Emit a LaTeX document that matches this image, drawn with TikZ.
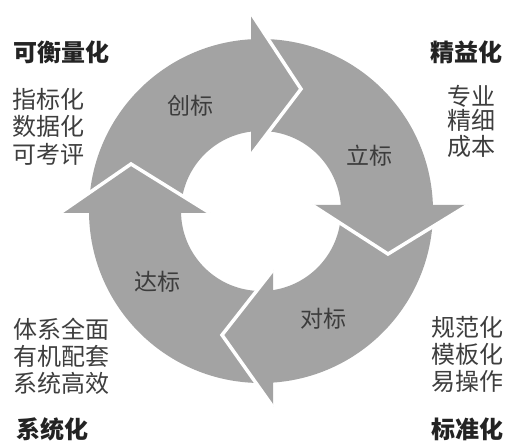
\documentclass[tikz,border=0pt]{standalone}
\usepackage{fontspec}
\newfontfamily\cjk{Noto Sans CJK SC}
\usetikzlibrary{calc}
\definecolor{ringgray}{RGB}{163,163,163}
\definecolor{txtgray}{RGB}{62,62,62}
\definecolor{ttlgray}{RGB}{35,35,35}
\definecolor{ingray}{RGB}{60,60,60}
\begin{document}
\begin{tikzpicture}[x=1pt,y=1pt,
  lbl/.style={font=\cjk\fontsize{24}{24}\selectfont, text=txtgray, inner sep=0pt},
  ttl/.style={font=\cjk\bfseries\fontsize{24}{24}\selectfont, text=ttlgray, inner sep=0pt},
  inlbl/.style={font=\cjk\fontsize{23}{23}\selectfont, text=ingray, inner sep=0pt},
  headfill/.style={fill=ringgray},
  gapline/.style={draw=white, line width=3.5pt, line join=miter}]
\useasboundingbox (0,0) rectangle (508,441);
\fill[white] (0,0) rectangle (508,441);
\coordinate (C) at (261,230);
% ring
\fill[ringgray, even odd rule] (C) circle[radius=172] (C) circle[radius=80];
% head of 创标 (top, pointing right)
\coordinate (a1) at (251,428); \coordinate (a2) at (251,286); \coordinate (at) at (301,352);
\fill[headfill] (a1) -- (at) -- (a2) -- cycle;
\draw[gapline] (a1) -- (at) -- (a2);
% head of 立标 (right, pointing down)
\coordinate (b1) at (468,236); \coordinate (b2) at (312,236); \coordinate (bt) at (388,187);
\fill[headfill] (b1) -- (bt) -- (b2) -- cycle;
\draw[gapline] (b1) -- (bt) -- (b2);
% head of 对标 (bottom, pointing left)
\coordinate (c1) at (273,34); \coordinate (c2) at (273,171); \coordinate (ct) at (222,106);
\fill[headfill] (c1) -- (ct) -- (c2) -- cycle;
\draw[gapline] (c1) -- (ct) -- (c2);
% head of 达标 (left, pointing up)
\coordinate (d1) at (60,228); \coordinate (d2) at (210,228); \coordinate (dt) at (131,277);
\fill[headfill] (d1) -- (dt) -- (d2) -- cycle;
\draw[gapline] (d1) -- (dt) -- (d2);
% labels on the ring
\node[inlbl] (chuang) at (190,335) {创标};
\node[inlbl] (li) at (369,285) {立标};
\node[inlbl] (dui) at (323.5,122) {对标};
\node[inlbl] (da) at (157.5,159) {达标};
% top left
\node[ttl] (tl0) at (61.5,389) {可衡量化};
\node[lbl] (tl1) at (48.3,342) {指标化};
\node[lbl] (tl2) at (48.3,315) {数据化};
\node[lbl] (tl3) at (48.3,287) {可考评};
% top right
\node[ttl] (tr0) at (466,389) {精益化};
\node[lbl] (tr1) at (471.5,345) {专业};
\node[lbl] (tr2) at (471.5,321) {精细};
\node[lbl] (tr3) at (471.5,295) {成本};
% bottom left
\node[lbl] (bl1) at (61,112) {体系全面};
\node[lbl] (bl2) at (61,85) {有机配套};
\node[lbl] (bl3) at (61,58) {系统高效};
\node[ttl] (bl0) at (52.5,12) {系统化};
% bottom right
\node[lbl] (br1) at (467.5,114) {规范化};
\node[lbl] (br2) at (467.5,87) {模板化};
\node[lbl] (br3) at (467.5,60) {易操作};
\node[ttl] (br0) at (467,12) {标准化};
\end{tikzpicture}
\end{document}
